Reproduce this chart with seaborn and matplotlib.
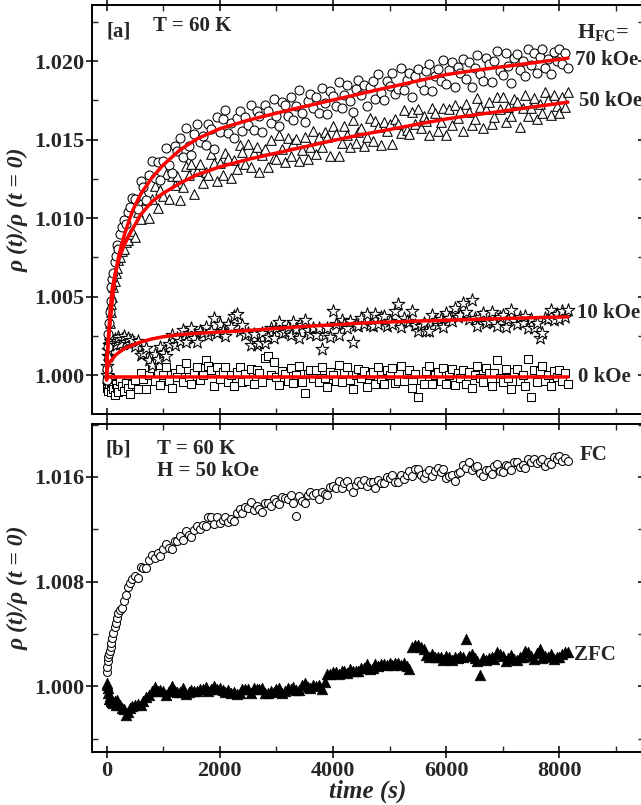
import numpy as np
import pandas as pd
import matplotlib
matplotlib.use("Agg")
import matplotlib.pyplot as plt
import seaborn as sns
from matplotlib.ticker import MultipleLocator, FormatStrFormatter

# ---------------------------------------------------------------------------
# Relaxation data: time stamps (s) and rho(t)/rho(0) - 1 in units of 1e-5
# ---------------------------------------------------------------------------
t_early = [0, 10, 20, 30, 40, 55, 70, 85, 100, 120, 140, 160, 185, 210, 240,
           270, 300, 335, 370, 410, 450]
t_late = list(range(500, 8151, 50))
time_s = t_early + t_late

# panel (a): field-cooled at different fields, T = 60 K
d70 = [-30, 40, 180, 260, 330, 400, 470, 560, 610, 650, 720, 760, 830, 800, 900,
       940, 990, 960, 1040, 1070, 1130,
       1123, 1058, 1237, 1196, 1117, 1277, 1361, 1256, 1354, 1245,
       1361, 1446, 1336, 1284, 1458, 1427, 1510, 1389, 1576, 1460,
       1403, 1533, 1602, 1484, 1523, 1464, 1599, 1570, 1442, 1645,
       1546, 1629, 1688, 1543, 1608, 1508, 1640, 1683, 1553, 1641,
       1593, 1718, 1558, 1682, 1648, 1549, 1717, 1685, 1606, 1761,
       1653, 1589, 1737, 1718, 1648, 1773, 1627, 1713, 1816, 1670,
       1614, 1745, 1787, 1701, 1773, 1672, 1826, 1733, 1661, 1808,
       1775, 1711, 1865, 1698, 1784, 1848, 1747, 1676, 1822, 1879,
       1786, 1850, 1711, 1835, 1876, 1761, 1915, 1799, 1751, 1875,
       1841, 1921, 1789, 1823, 1955, 1817, 1881, 1922, 1769, 1907,
       1949, 1863, 1815, 1939, 1980, 1811, 1905, 1947, 1876, 2007,
       1854, 1941, 1996, 1833, 1963, 1921, 2014, 1888, 1995, 1833,
       1955, 2039, 1915, 1872, 2017, 1982, 1864, 2002, 2064, 1938,
       1911, 2049, 1968, 1858, 2018, 2042, 1941, 2003, 1907, 2075,
       1972, 2049, 1925, 2024, 2079, 1954, 2016, 1920, 2059, 2001,
       2077, 1983, 2052, 1958]

d50 = [-20, 60, 130, 200, 260, 330, 400, 450, 500, 560, 600, 650, 680, 730, 750,
       790, 800, 850, 860, 900, 920,
       881, 1041, 997, 1150, 1113, 998, 1120, 1203, 1066, 1176,
       1143, 1283, 1121, 1267, 1210, 1266, 1118, 1196, 1333, 1276,
       1345, 1156, 1299, 1343, 1223, 1296, 1272, 1405, 1351, 1237,
       1349, 1272, 1413, 1380, 1258, 1367, 1312, 1466, 1419, 1347,
       1471, 1325, 1412, 1453, 1293, 1401, 1443, 1327, 1496, 1380,
       1377, 1531, 1437, 1359, 1513, 1397, 1475, 1502, 1363, 1435,
       1514, 1375, 1455, 1556, 1410, 1519, 1455, 1549, 1516, 1393,
       1584, 1535, 1397, 1476, 1585, 1529, 1451, 1626, 1479, 1551,
       1576, 1459, 1515, 1638, 1491, 1615, 1581, 1464, 1611, 1554,
       1601, 1471, 1631, 1597, 1541, 1686, 1561, 1535, 1674, 1601,
       1695, 1571, 1649, 1615, 1528, 1704, 1671, 1554, 1609, 1703,
       1526, 1694, 1592, 1722, 1635, 1681, 1557, 1724, 1675, 1594,
       1634, 1764, 1707, 1574, 1697, 1736, 1597, 1644, 1774, 1694,
       1771, 1609, 1709, 1652, 1758, 1739, 1583, 1699, 1784, 1651,
       1699, 1762, 1628, 1729, 1671, 1801, 1751, 1656, 1786, 1713,
       1671, 1770, 1706, 1805]

d10 = [0, 60, 120, 160, 190, 200, 210, 215, 225, 205, 230, 190, 220, 240, 200,
       230, 250, 210, 235, 195, 225,
       185, 218, 128, 143, 175, 97, 62, 132, 103, 177,
       138, 120, 198, 253, 193, 237, 218, 290, 208, 269,
       300, 237, 212, 280, 270, 308, 255, 283, 362, 268,
       324, 283, 252, 323, 303, 375, 389, 283, 320, 258,
       265, 190, 262, 192, 207, 268, 207, 245, 302, 237,
       297, 337, 270, 277, 308, 258, 338, 293, 238, 318,
       353, 285, 262, 302, 257, 300, 165, 253, 297, 240,
       406, 323, 257, 353, 323, 298, 345, 208, 322, 310,
       363, 328, 390, 320, 312, 392, 327, 372, 377, 312,
       347, 328, 407, 454, 307, 363, 343, 340, 408, 322,
       283, 312, 333, 283, 280, 382, 342, 317, 360, 307,
       395, 363, 343, 430, 367, 383, 456, 403, 360, 478,
       363, 312, 370, 397, 332, 345, 400, 337, 312, 372,
       382, 308, 355, 417, 342, 327, 368, 333, 377, 300,
       357, 300, 333, 235, 268, 363, 358, 417, 353, 388,
       357, 410, 372, 415]

d0 = [-30, -80, -40, -100, -60, -20, -110, -70, -50, -90, -130, -60, -80, -110,
      -40, -70, -100, -50, -80, -120, -60,
      -30, -90, 15, -25, -90, 0, 45, -35, 15, -65,
      0, 50, -35, -85, 15, -10, 40, -45, 75, -10,
      -60, 15, 50, -30, 0, 95, 60, 30, -70, 50,
      -25, 20, 50, -45, 0, -70, 20, 50, -45, 5,
      -35, 40, -60, 30, 15, -45, 110, 120, 0, 85,
      -10, -65, 25, 5, -40, 45, -50, 0, 60, -45,
      -115, 5, 35, -20, 30, -45, 50, -20, -75, 20,
      0, -40, 65, -45, 15, 50, -30, -90, 0, 40,
      -20, 25, -75, 0, 20, -55, 50, -25, -55, 30,
      0, 45, -50, -35, 55, -35, 10, 30, -80, 5,
      -140, -30, -60, 25, 55, -55, 0, 20, -35, 45,
      -60, 0, 40, -65, 15, -20, 35, -55, 20, -85,
      0, 60, -20, -45, 45, 15, -70, 15, 95, -20,
      -45, 40, -20, -90, 20, 40, -35, 0, -70, 100,
      -140, 35, -45, 25, 55, -35, 0, -70, 25, -10,
      35, -35, 15, -55]

# panel (b): H = 50 kOe, field-cooled vs zero-field-cooled
d_fc = [110, 150, 190, 220, 250, 270, 300, 330, 370, 410, 450, 480, 520, 560,
        580, 600, 650, 700, 760, 790, 820,
        840, 828, 908, 905, 900, 965, 1005, 977, 1018, 995,
        1048, 1085, 1058, 1050, 1113, 1112, 1150, 1120, 1188, 1155,
        1142, 1192, 1227, 1200, 1230, 1228, 1290, 1293, 1242, 1293,
        1247, 1268, 1295, 1255, 1280, 1260, 1322, 1355, 1325, 1368,
        1360, 1405, 1345, 1375, 1357, 1333, 1402, 1400, 1377, 1432,
        1405, 1392, 1445, 1442, 1428, 1463, 1398, 1300, 1453, 1413,
        1403, 1460, 1487, 1462, 1475, 1430, 1485, 1468, 1462, 1525,
        1528, 1515, 1570, 1518, 1550, 1565, 1520, 1485, 1537, 1565,
        1543, 1573, 1530, 1560, 1562, 1517, 1577, 1552, 1550, 1600,
        1592, 1613, 1557, 1562, 1615, 1583, 1618, 1645, 1608, 1657,
        1660, 1615, 1588, 1633, 1655, 1607, 1647, 1665, 1635, 1662,
        1590, 1603, 1615, 1570, 1632, 1638, 1688, 1665, 1710, 1650,
        1675, 1682, 1630, 1610, 1652, 1650, 1625, 1680, 1695, 1642,
        1637, 1693, 1680, 1652, 1715, 1717, 1673, 1688, 1665, 1735,
        1710, 1740, 1703, 1725, 1733, 1685, 1715, 1697, 1753, 1738,
        1757, 1720, 1747, 1720]

d_zfc = [10, 25, -15, -55, -95, -75, -105, -115, -120, -125, -110, -145, -105,
         -135, -140, -165, -175, -220, -200, -165, -155,
         -145, -139, -144, -112, -85, -68, -38, -6, -39, -28,
         -34, -65, -34, -2, -39, -41, -42, -10, -59, -48,
         -26, -36, -36, -25, -25, -9, -40, -19, -1, -24,
         -11, -29, -48, -32, -52, -45, -61, -52, -20, -24,
         -25, -55, -13, -23, -21, -14, -51, -55, -36, -46,
         -18, -16, -50, -36, -14, -24, -9, -32, -29, 6,
         21, -5, -16, 9, 2, 10, -25, 31, 94, 90,
         106, 108, 97, 116, 118, 98, 130, 118, 114, 120,
         141, 141, 170, 135, 139, 169, 154, 169, 172, 162,
         179, 161, 179, 179, 162, 176, 156, 130, 296, 314,
         318, 302, 281, 241, 225, 244, 224, 222, 225, 199,
         230, 221, 203, 225, 214, 231, 221, 358, 230, 243,
         218, 194, 85, 212, 204, 215, 225, 207, 262, 244,
         229, 196, 215, 239, 207, 199, 226, 221, 272, 265,
         232, 210, 251, 285, 216, 228, 223, 244, 211, 226,
         224, 245, 259, 260]

# fitted relaxation curves (same units)
t_fit = [0, 5, 15, 30, 60, 100, 150, 220, 320, 450, 600, 800, 1000, 1300, 1600,
         2000, 2500, 3000, 3500, 4000, 4500, 5000, 5500, 6000, 6500, 7000,
         7500, 8150]
fit70 = [-30, 80, 150, 220, 320, 470, 630, 770, 900, 1040, 1152, 1256, 1338,
         1435, 1505, 1569, 1623, 1668, 1711, 1752, 1793, 1834, 1874, 1914,
         1940, 1964, 1987, 2018]
fit50 = [-30, 60, 130, 230, 400, 550, 645, 745, 835, 925, 1020, 1105, 1158,
         1223, 1276, 1326, 1374, 1414, 1454, 1494, 1531, 1564, 1598, 1631,
         1657, 1681, 1706, 1738]
fit10 = [-30, 20, 45, 65, 85, 100, 125, 145, 170, 190, 210, 230, 244, 258, 266,
         274, 284, 297, 310, 320, 331, 338, 344, 349, 355, 360, 365, 371]
fit0 = [-25, -15, -12, -12, -12, -12, -12, -12, -12, -12, -12, -12, -12, -12,
        -12, -12, -12, -12, -12, -12, -12, -12, -12, -12, -12, -12, -12, -12]

field_labels = ["70 kOe", "50 kOe", "10 kOe", "0 kOe"]


def ratio(d):
    return 1.0 + np.asarray(d, dtype=float) * 1e-5


data_a = pd.DataFrame({"t": time_s, "H70": ratio(d70), "H50": ratio(d50),
                       "H10": ratio(d10), "H0": ratio(d0)})
data_b = pd.DataFrame({"t": time_s, "FC": ratio(d_fc), "ZFC": ratio(d_zfc)})
fits = pd.DataFrame({"t": t_fit, "H70": ratio(fit70), "H50": ratio(fit50),
                     "H10": ratio(fit10), "H0": ratio(fit0)})

# ---------------------------------------------------------------------------
# Styling
# ---------------------------------------------------------------------------
sns.set_style("ticks")
plt.rcParams.update({
    "font.family": ["Liberation Serif", "DejaVu Serif"],
    "font.weight": "bold",
    "axes.labelweight": "bold",
    "mathtext.fontset": "custom",
    "mathtext.rm": "Liberation Serif:bold",
    "mathtext.it": "Liberation Serif:italic:bold",
    "mathtext.bf": "Liberation Serif:bold",
    "axes.linewidth": 1.4,
    "axes.edgecolor": "black",
})

fig = plt.figure(figsize=(6.41, 8.05), dpi=100)
ax_a = fig.add_axes([0.1435, 0.4857, 0.8612, 0.5081])
ax_b = fig.add_axes([0.1435, 0.0658, 0.8612, 0.4075])

open_kw = dict(facecolor="white", edgecolor="black", linewidth=0.75,
               legend=False, zorder=2)

# panel (a) scatter
sns.scatterplot(data=data_a, x="t", y="H0", marker="s", s=36, ax=ax_a, **open_kw)
sns.scatterplot(data=data_a, x="t", y="H10", marker="*", s=95, ax=ax_a, **open_kw)
sns.scatterplot(data=data_a, x="t", y="H50", marker="^", s=48, ax=ax_a, **open_kw)
sns.scatterplot(data=data_a, x="t", y="H70", marker="o", s=42, ax=ax_a, **open_kw)

# panel (a) fits
for col in ["H70", "H50", "H10", "H0"]:
    sns.lineplot(data=fits, x="t", y=col, color="#ff0000", linewidth=2.5,
                 estimator=None, sort=False, ax=ax_a, zorder=3)

# panel (b) scatter
sns.scatterplot(data=data_b, x="t", y="FC", marker="o", s=33, ax=ax_b, **open_kw)
sns.scatterplot(data=data_b, x="t", y="ZFC", marker="^", s=58, color="black",
                edgecolor="black", linewidth=0.5, legend=False, ax=ax_b, zorder=2)

# axes, ticks
for ax in (ax_a, ax_b):
    ax.set_xlim(-258, 9494)
    ax.xaxis.set_major_locator(MultipleLocator(2000))
    ax.xaxis.set_minor_locator(MultipleLocator(1000))
    ax.tick_params(which="major", direction="inout", length=8, width=1.3,
                   top=True, right=True, labelsize=16, pad=1.5)
    ax.tick_params(which="minor", direction="in", length=4, width=1.0,
                   top=True, right=True)
    ax.tick_params(axis="x", which="major", pad=2.5)
    for sp in ax.spines.values():
        sp.set_linewidth(1.4)
    ax.set_xlabel("")

ax_a.set_ylim(0.99752, 1.02357)
ax_a.yaxis.set_major_locator(MultipleLocator(0.005))
ax_a.yaxis.set_minor_locator(MultipleLocator(0.0025))
ax_a.yaxis.set_major_formatter(FormatStrFormatter("%.3f"))
ax_a.tick_params(labelbottom=False)

ax_b.set_ylim(0.99497, 1.02004)
ax_b.yaxis.set_major_locator(MultipleLocator(0.008))
ax_b.yaxis.set_minor_locator(MultipleLocator(0.004))
ax_b.yaxis.set_major_formatter(FormatStrFormatter("%.3f"))

ylab = "ρ (t)/ρ (t = 0)"
for ax in (ax_a, ax_b):
    ax.set_ylabel(ylab, fontsize=17, fontstyle="italic", fontweight="bold",
                  labelpad=4)
ax_b.set_xlabel("time (s)", fontsize=18, fontstyle="italic", fontweight="bold",
                labelpad=-1)

# annotations, panel (a)
txt = dict(fontsize=15, fontweight="bold", ha="left", va="center")
ax_a.text(0.0254, 0.934, "[a]", transform=ax_a.transAxes, **txt)
ax_a.text(0.1105, 0.949, "T = 60 K", transform=ax_a.transAxes, **txt)
ax_a.text(0.8786, 0.932, r"$\mathrm{H_{FC}}$=", transform=ax_a.transAxes,
          fontsize=16, fontweight="bold", ha="left", va="center")
label_pos = [0.8655, 0.765, 0.247, 0.0905]
label_x = [0.875, 0.882, 0.8786, 0.8804]
for lab, xp, yp in zip(field_labels, label_x, label_pos):
    ax_a.text(xp, yp, lab, transform=ax_a.transAxes, **txt)

# annotations, panel (b)
ax_b.text(0.0236, 0.921, "[b]", transform=ax_b.transAxes, **txt)
ax_b.text(0.118, 0.924, "T = 60 K", transform=ax_b.transAxes, **txt)
ax_b.text(0.118, 0.857, "H = 50 kOe", transform=ax_b.transAxes, **txt)
ax_b.text(0.884, 0.905, "FC", transform=ax_b.transAxes, **txt)
ax_b.text(0.8732, 0.296, "ZFC", transform=ax_b.transAxes, **txt)

fig.savefig("out.png", dpi=100)
